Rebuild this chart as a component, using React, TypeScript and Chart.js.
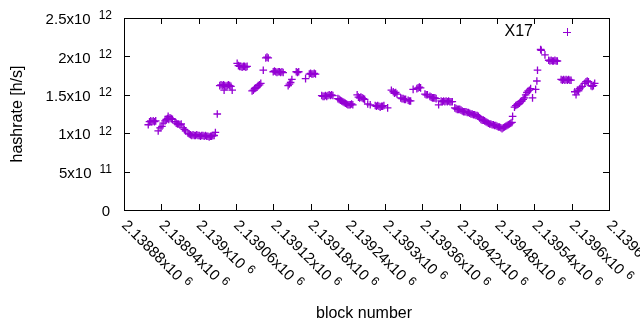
import React, { useEffect, useRef } from "react";
import { Chart, registerables } from "chart.js";

Chart.register(...registerables);

const seriesLabel = "X17";
const xTitle = "block number";
const yTitle = "hashrate [h/s]";
const pointColor = "#9400d3";

// block numbers (x) and hashrate in units of 10^12 h/s (y)
const blockNumbers = [
  2138919, 2138921, 2138923, 2138925, 2138927, 2138929, 2138931, 2138935, 2138938, 2138941,
  2138943, 2138946, 2138948, 2138950, 2138951, 2138952, 2138954, 2138956, 2138958, 2138962,
  2138964, 2138966, 2138968, 2138970, 2138972, 2138975, 2138977, 2138979, 2138983, 2138985,
  2138987, 2138989, 2138991, 2138993, 2138995, 2138997, 2138999, 2139001, 2139003, 2139005,
  2139007, 2139009, 2139011, 2139013, 2139015, 2139017, 2139019, 2139021, 2139023, 2139025,
  2139027, 2139030, 2139034, 2139036, 2139038, 2139040, 2139041, 2139042, 2139044, 2139046,
  2139048, 2139050, 2139052, 2139054, 2139062, 2139064, 2139066, 2139068, 2139070, 2139072,
  2139074, 2139076, 2139078, 2139086, 2139088, 2139090, 2139092, 2139094, 2139096, 2139098,
  2139100, 2139104, 2139108, 2139110, 2139112, 2139120, 2139122, 2139124, 2139126, 2139128,
  2139130, 2139132, 2139134, 2139136, 2139144, 2139146, 2139148, 2139150, 2139157, 2139159,
  2139161, 2139172, 2139178, 2139180, 2139182, 2139184, 2139186, 2139188, 2139198, 2139200,
  2139202, 2139204, 2139206, 2139208, 2139210, 2139212, 2139214, 2139216, 2139224, 2139226,
  2139228, 2139230, 2139232, 2139234, 2139236, 2139238, 2139240, 2139242, 2139244, 2139246,
  2139248, 2139255, 2139257, 2139259, 2139261, 2139263, 2139265, 2139267, 2139272, 2139276,
  2139284, 2139286, 2139288, 2139290, 2139292, 2139294, 2139296, 2139298, 2139304, 2139310,
  2139313, 2139315, 2139317, 2139319, 2139325, 2139327, 2139329, 2139331, 2139333, 2139337,
  2139339, 2139341, 2139345, 2139351, 2139353, 2139355, 2139357, 2139364, 2139366, 2139368,
  2139372, 2139374, 2139376, 2139378, 2139380, 2139382, 2139386, 2139390, 2139392, 2139394,
  2139396, 2139398, 2139400, 2139402, 2139404, 2139406, 2139408, 2139412, 2139414, 2139416,
  2139418, 2139420, 2139422, 2139424, 2139426, 2139428, 2139430, 2139432, 2139434, 2139436,
  2139438, 2139440, 2139442, 2139444, 2139446, 2139448, 2139450, 2139452, 2139454, 2139456,
  2139458, 2139460, 2139462, 2139464, 2139466, 2139468, 2139470, 2139472, 2139474, 2139476,
  2139478, 2139480, 2139482, 2139484, 2139486, 2139488, 2139490, 2139492, 2139494, 2139496,
  2139498, 2139500, 2139502, 2139504, 2139505, 2139508, 2139510, 2139512, 2139514, 2139516,
  2139518, 2139520, 2139522, 2139524, 2139526, 2139528, 2139530, 2139532, 2139534, 2139537,
  2139542, 2139544, 2139545, 2139550, 2139551, 2139557, 2139563, 2139565, 2139567, 2139569,
  2139571, 2139573, 2139575, 2139577, 2139583, 2139585, 2139587, 2139589, 2139591, 2139593,
  2139595, 2139597, 2139599, 2139605, 2139607, 2139609, 2139611, 2139613, 2139615, 2139617,
  2139621, 2139623, 2139625, 2139627, 2139631, 2139633, 2139635, 2139637,
];

const hashrateT = [
  1.11, 1.15, 1.16, 1.15, 1.16, 1.15, 1.16, 1.03, 1.07, 1.09,
  1.13, 1.16, 1.18, 1.19, 1.22, 1.18, 1.20, 1.19, 1.18, 1.15,
  1.13, 1.12, 1.12, 1.11, 1.12, 1.07, 1.05, 1.03, 1.00, 0.99,
  0.98, 0.97, 0.98, 0.97, 0.97, 0.98, 0.97, 0.97, 0.96, 0.97,
  0.97, 0.96, 0.97, 0.96, 0.96, 0.95, 0.96, 0.96, 0.97, 0.97,
  1.01, 1.25, 1.62, 1.63, 1.62, 1.63, 1.56, 1.62, 1.61, 1.62,
  1.63, 1.62, 1.61, 1.56, 1.91, 1.88, 1.87, 1.87, 1.86, 1.87,
  1.87, 1.86, 1.87, 1.55, 1.56, 1.58, 1.59, 1.60, 1.62, 1.63,
  1.65, 1.82, 1.98, 1.99, 1.98, 1.80, 1.81, 1.80, 1.79, 1.80,
  1.80, 1.79, 1.80, 1.79, 1.62, 1.64, 1.66, 1.70, 1.80, 1.79,
  1.80, 1.71, 1.77, 1.78, 1.77, 1.77, 1.78, 1.77, 1.49, 1.48,
  1.48, 1.49, 1.48, 1.49, 1.50, 1.49, 1.50, 1.49, 1.45, 1.44,
  1.43, 1.42, 1.41, 1.40, 1.39, 1.38, 1.37, 1.37, 1.37, 1.38,
  1.37, 1.50, 1.47, 1.46, 1.47, 1.46, 1.45, 1.44, 1.38, 1.37,
  1.36, 1.35, 1.36, 1.35, 1.34, 1.35, 1.35, 1.36, 1.33, 1.56,
  1.54, 1.52, 1.53, 1.51, 1.46, 1.45, 1.45, 1.44, 1.44, 1.43,
  1.42, 1.42, 1.57, 1.58, 1.59, 1.60, 1.59, 1.51, 1.50, 1.50,
  1.48, 1.47, 1.46, 1.46, 1.46, 1.45, 1.37, 1.42, 1.41, 1.42,
  1.41, 1.42, 1.41, 1.42, 1.41, 1.41, 1.41, 1.33, 1.32, 1.31,
  1.31, 1.31, 1.30, 1.29, 1.28, 1.28, 1.28, 1.27, 1.27, 1.26,
  1.25, 1.25, 1.24, 1.24, 1.23, 1.23, 1.22, 1.20, 1.18, 1.17,
  1.17, 1.16, 1.15, 1.14, 1.13, 1.12, 1.12, 1.11, 1.11, 1.10,
  1.10, 1.09, 1.08, 1.08, 1.07, 1.06, 1.07, 1.08, 1.09, 1.10,
  1.11, 1.12, 1.13, 1.14, 1.22, 1.34, 1.36, 1.37, 1.38, 1.39,
  1.41, 1.42, 1.44, 1.46, 1.50, 1.53, 1.55, 1.56, 1.58, 1.46,
  1.57, 1.68, 1.82, 2.09, 2.08, 2.02, 1.95, 1.94, 1.95, 1.94,
  1.94, 1.95, 1.94, 1.94, 1.70, 1.69, 1.70, 1.69, 1.70, 1.69,
  1.70, 1.69, 1.69, 1.54, 1.50, 1.56, 1.55, 1.58, 1.60, 1.61,
  1.65, 1.67, 1.68, 1.67, 1.62, 1.61, 1.62, 1.65,
];

const xTickValues = [
  2138880, 2138940, 2139000, 2139060, 2139120, 2139180, 2139240,
  2139300, 2139360, 2139420, 2139480, 2139540, 2139600, 2139660,
];
const xTickMantissas = [
  "2.13888x10", "2.13894x10", "2.139x10", "2.13906x10", "2.13912x10", "2.13918x10", "2.13924x10",
  "2.1393x10", "2.13936x10", "2.13942x10", "2.13948x10", "2.13954x10", "2.1396x10", "2.13966x10",
];
const xTickExponents = ["6", "6", "6", "6", "6", "6", "6", "6", "6", "6", "6", "6", "6", "6"];

const yTickValues = [0, 5e11, 1e12, 1.5e12, 2e12, 2.5e12];
const yTickMantissas = ["0", "5x10", "1x10", "1.5x10", "2x10", "2.5x10"];
const yTickExponents = ["", "11", "12", "12", "12", "12"];

const FONT = '"Liberation Sans", Arial, sans-serif';
const TICK_PX = 15;
const SUP_PX = 12;
const TITLE_PX = 16;

const decorPlugin = {
  id: "gnuplotDecor",
  afterDraw(chart: any) {
    const { ctx, chartArea: a, scales } = chart;
    const xs = scales.x;
    const ys = scales.y;
    ctx.save();
    ctx.strokeStyle = "#000";
    ctx.lineWidth = 1;
    ctx.strokeRect(a.left + 0.5, a.top + 0.5, a.right - a.left, a.bottom - a.top);

    const tl = 6;
    ctx.beginPath();
    yTickValues.forEach((v) => {
      const y = Math.round(ys.getPixelForValue(v)) + 0.5;
      ctx.moveTo(a.left, y);
      ctx.lineTo(a.left + tl, y);
      ctx.moveTo(a.right, y);
      ctx.lineTo(a.right - tl, y);
    });
    xTickValues.forEach((v) => {
      const x = Math.round(xs.getPixelForValue(v)) + 0.5;
      ctx.moveTo(x, a.bottom);
      ctx.lineTo(x, a.bottom - tl);
      ctx.moveTo(x, a.top);
      ctx.lineTo(x, a.top + tl);
    });
    ctx.stroke();

    ctx.fillStyle = "#000";
    ctx.textBaseline = "middle";
    // y tick labels
    yTickValues.forEach((v, i) => {
      const y = ys.getPixelForValue(v) + 2;
      const exp = yTickExponents[i];
      ctx.textAlign = "right";
      if (exp) {
        ctx.font = `${SUP_PX}px ${FONT}`;
        ctx.fillText(exp, 112, y - 4);
        const ew = ctx.measureText(exp).width;
        ctx.font = `${TICK_PX}px ${FONT}`;
        ctx.fillText(yTickMantissas[i], 112 - ew - 8, y);
      } else {
        ctx.font = `${TICK_PX}px ${FONT}`;
        ctx.fillText(yTickMantissas[i], 110, y);
      }
    });

    // x tick labels, rotated
    xTickValues.forEach((v, i) => {
      const x = xs.getPixelForValue(v);
      ctx.save();
      ctx.translate(x, a.bottom + 13);
      ctx.rotate(Math.PI / 4);
      ctx.textAlign = "left";
      ctx.font = `${TICK_PX}px ${FONT}`;
      ctx.fillText(xTickMantissas[i], 0, 0);
      const mw = ctx.measureText(xTickMantissas[i]).width;
      ctx.font = `${SUP_PX}px ${FONT}`;
      ctx.fillText(xTickExponents[i], mw + 5, -4);
      ctx.restore();
    });

    // axis titles
    ctx.font = `${TITLE_PX}px ${FONT}`;
    ctx.textAlign = "center";
    ctx.save();
    ctx.translate(18, 114);
    ctx.rotate(-Math.PI / 2);
    ctx.fillText(yTitle, 0, 0);
    ctx.restore();
    ctx.fillText(xTitle, 364, 314);

    // key
    ctx.textAlign = "right";
    ctx.fillText(chart.data.datasets[0].label, 533, 32);
    ctx.strokeStyle = pointColor;
    ctx.beginPath();
    ctx.moveTo(563, 32.5);
    ctx.lineTo(571, 32.5);
    ctx.moveTo(567.5, 28);
    ctx.lineTo(567.5, 36);
    ctx.stroke();
    ctx.restore();
  },
};

export default function App() {
  const ref = useRef<HTMLCanvasElement | null>(null);
  useEffect(() => {
    if (!ref.current) return;
    const points = blockNumbers.map((b, i) => ({ x: b, y: hashrateT[i] * 1e12 }));
    const chart = new Chart(ref.current, {
      type: "scatter",
      data: {
        datasets: [
          {
            label: seriesLabel,
            data: points,
            pointStyle: "cross",
            pointRadius: 3.8,
            pointHoverRadius: 3.8,
            borderWidth: 1.3,
            borderColor: pointColor,
            backgroundColor: pointColor,
          },
        ],
      },
      options: {
        responsive: false,
        animation: false,
        devicePixelRatio: 1,
        events: [],
        layout: { padding: { top: 18, right: 31, left: 0, bottom: 0 } },
        plugins: { legend: { display: false }, tooltip: { enabled: false } },
        scales: {
          x: {
            type: "linear",
            min: 2138880,
            max: 2139660,
            grid: { display: false },
            border: { display: false },
            ticks: { display: false },
            afterFit: (s: any) => {
              s.height = 120;
            },
          },
          y: {
            type: "linear",
            min: 0,
            max: 2.5e12,
            grid: { display: false },
            border: { display: false },
            ticks: { display: false },
            afterFit: (s: any) => {
              s.width = 124;
            },
          },
        },
      },
      plugins: [decorPlugin],
    });
    return () => chart.destroy();
  }, []);
  return (
    <div style={{ position: "fixed", left: 0, top: 0, width: 640, height: 330, background: "#fff" }}>
      <canvas ref={ref} width={640} height={330} style={{ display: "block" }} />
    </div>
  );
}
